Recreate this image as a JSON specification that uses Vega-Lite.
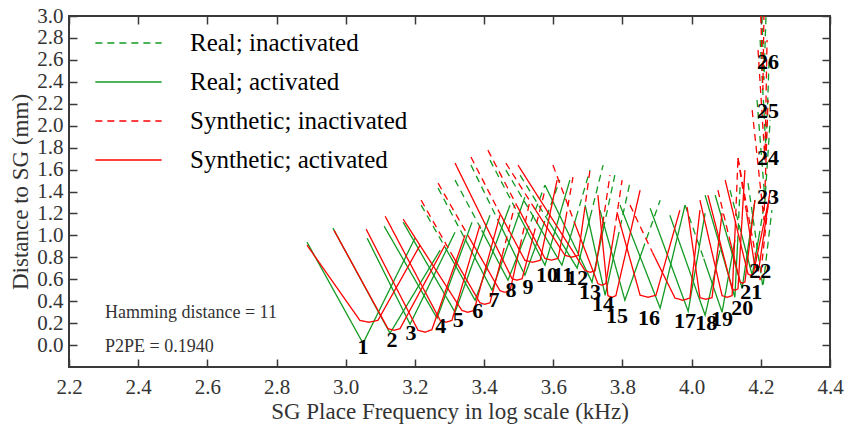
{
  "$schema": "https://vega.github.io/schema/vega-lite/v6.json",
  "width": 761,
  "height": 351,
  "autosize": {"type": "none"},
  "padding": {"left": 69, "top": 16, "right": 18, "bottom": 62},
  "background": "white",
  "config": {"view": {"stroke": "#3a3a3a", "strokeWidth": 2}, "font": "Liberation Serif"},
  "datasets": {
    "curves": [
      {"k":"Real; activated","g":"G1","x":2.888,"y":0.938},{"k":"Real; activated","g":"G1","x":3.050,"y":0.016},{"k":"Real; activated","g":"G1","x":3.200,"y":0.974},
      {"k":"Real; activated","g":"G2","x":2.963,"y":1.066},{"k":"Real; activated","g":"G2","x":3.128,"y":0.108},{"k":"Real; activated","g":"G2","x":3.273,"y":0.865},
      {"k":"Real; activated","g":"G3","x":3.062,"y":0.974},{"k":"Real; activated","g":"G3","x":3.186,"y":0.190},{"k":"Real; activated","g":"G3","x":3.316,"y":1.029},
      {"k":"Real; activated","g":"G4","x":3.111,"y":1.084},{"k":"Real; activated","g":"G4","x":3.264,"y":0.245},{"k":"Real; activated","g":"G4","x":3.365,"y":1.120},
      {"k":"Real; activated","g":"G5","x":3.166,"y":1.120},{"k":"Real; activated","g":"G5","x":3.316,"y":0.299},{"k":"Real; activated","g":"G5","x":3.417,"y":1.184},
      {"k":"Real; inactivated","g":"G6a","x":3.218,"y":1.276},{"k":"Real; inactivated","g":"G6a","x":3.296,"y":0.843},
      {"k":"Real; activated","g":"G6b","x":3.296,"y":0.843},{"k":"Real; activated","g":"G6b","x":3.374,"y":0.409},{"k":"Real; activated","g":"G6b","x":3.475,"y":1.276},
      {"k":"Real; inactivated","g":"G7a","x":3.267,"y":1.431},{"k":"Real; inactivated","g":"G7a","x":3.345,"y":0.966},
      {"k":"Real; activated","g":"G7b","x":3.345,"y":0.966},{"k":"Real; activated","g":"G7b","x":3.423,"y":0.500},{"k":"Real; activated","g":"G7b","x":3.518,"y":1.349},
      {"k":"Real; inactivated","g":"G8a","x":3.316,"y":1.504},{"k":"Real; inactivated","g":"G8a","x":3.393,"y":1.048},
      {"k":"Real; activated","g":"G8b","x":3.393,"y":1.048},{"k":"Real; activated","g":"G8b","x":3.469,"y":0.591},{"k":"Real; activated","g":"G8b","x":3.523,"y":1.025},
      {"k":"Real; inactivated","g":"G8c","x":3.523,"y":1.025},{"k":"Real; inactivated","g":"G8c","x":3.576,"y":1.458},
      {"k":"Real; inactivated","g":"G9a","x":3.362,"y":1.641},{"k":"Real; inactivated","g":"G9a","x":3.440,"y":1.139},
      {"k":"Real; activated","g":"G9b","x":3.440,"y":1.139},{"k":"Real; activated","g":"G9b","x":3.518,"y":0.637},{"k":"Real; activated","g":"G9b","x":3.569,"y":1.071},
      {"k":"Real; inactivated","g":"G9c","x":3.569,"y":1.071},{"k":"Real; inactivated","g":"G9c","x":3.619,"y":1.504},
      {"k":"Real; inactivated","g":"G10a","x":3.417,"y":1.686},{"k":"Real; inactivated","g":"G10a","x":3.497,"y":1.207},
      {"k":"Real; activated","g":"G10b","x":3.497,"y":1.207},{"k":"Real; activated","g":"G10b","x":3.576,"y":0.728},{"k":"Real; activated","g":"G10b","x":3.648,"y":1.504},
      {"k":"Real; inactivated","g":"G11a","x":3.463,"y":1.595},{"k":"Real; inactivated","g":"G11a","x":3.544,"y":1.162},
      {"k":"Real; activated","g":"G11b","x":3.544,"y":1.162},{"k":"Real; activated","g":"G11b","x":3.625,"y":0.728},{"k":"Real; activated","g":"G11b","x":3.666,"y":1.162},
      {"k":"Real; inactivated","g":"G11c","x":3.666,"y":1.162},{"k":"Real; inactivated","g":"G11c","x":3.706,"y":1.595},
      {"k":"Real; inactivated","g":"G12a","x":3.504,"y":1.549},{"k":"Real; inactivated","g":"G12a","x":3.587,"y":1.125},
      {"k":"Real; activated","g":"G12b","x":3.587,"y":1.125},{"k":"Real; activated","g":"G12b","x":3.669,"y":0.701},{"k":"Real; activated","g":"G12b","x":3.707,"y":1.171},
      {"k":"Real; inactivated","g":"G12c","x":3.707,"y":1.171},{"k":"Real; inactivated","g":"G12c","x":3.744,"y":1.641},
      {"k":"Real; activated","g":"G13b","x":3.576,"y":1.458},{"k":"Real; activated","g":"G13b","x":3.712,"y":0.573},{"k":"Real; activated","g":"G13b","x":3.745,"y":1.061},
      {"k":"Real; inactivated","g":"G13c","x":3.745,"y":1.061},{"k":"Real; inactivated","g":"G13c","x":3.778,"y":1.549},
      {"k":"Real; activated","g":"G14b","x":3.692,"y":1.276},{"k":"Real; activated","g":"G14b","x":3.750,"y":0.454},{"k":"Real; activated","g":"G14b","x":3.786,"y":0.970},
      {"k":"Real; inactivated","g":"G14c","x":3.786,"y":0.970},{"k":"Real; inactivated","g":"G14c","x":3.822,"y":1.485},
      {"k":"Real; activated","g":"G15b","x":3.735,"y":1.230},{"k":"Real; activated","g":"G15b","x":3.807,"y":0.409},{"k":"Real; activated","g":"G15b","x":3.858,"y":0.865},
      {"k":"Real; inactivated","g":"G15c","x":3.858,"y":0.865},{"k":"Real; inactivated","g":"G15c","x":3.909,"y":1.321},
      {"k":"Real; activated","g":"G16","x":3.793,"y":1.276},{"k":"Real; activated","g":"G16","x":3.909,"y":0.336},{"k":"Real; activated","g":"G16","x":3.981,"y":1.276},
      {"k":"Real; activated","g":"G17","x":3.880,"y":1.248},{"k":"Real; activated","g":"G17","x":3.990,"y":0.308},{"k":"Real; activated","g":"G17","x":4.039,"y":1.203},
      {"k":"Real; activated","g":"G18","x":3.937,"y":1.184},{"k":"Real; activated","g":"G18","x":4.039,"y":0.272},{"k":"Real; activated","g":"G18","x":4.082,"y":0.865},
      {"k":"Real; inactivated","g":"G19a","x":3.981,"y":1.276},{"k":"Real; inactivated","g":"G19a","x":4.035,"y":0.788},
      {"k":"Real; activated","g":"G19b","x":4.035,"y":0.788},{"k":"Real; activated","g":"G19b","x":4.088,"y":0.299},{"k":"Real; activated","g":"G19b","x":4.125,"y":0.956},
      {"k":"Real; activated","g":"G20b","x":4.039,"y":1.367},{"k":"Real; activated","g":"G20b","x":4.125,"y":0.436},{"k":"Real; activated","g":"G20b","x":4.133,"y":0.938},
      {"k":"Real; inactivated","g":"G20c","x":4.133,"y":0.938},{"k":"Real; inactivated","g":"G20c","x":4.140,"y":1.440},
      {"k":"Real; activated","g":"G21","x":4.068,"y":1.367},{"k":"Real; activated","g":"G21","x":4.146,"y":0.518},{"k":"Real; activated","g":"G21","x":4.183,"y":1.321},
      {"k":"Real; inactivated","g":"G22a","x":4.111,"y":1.412},{"k":"Real; inactivated","g":"G22a","x":4.143,"y":1.025},
      {"k":"Real; activated","g":"G22b","x":4.143,"y":1.025},{"k":"Real; activated","g":"G22b","x":4.175,"y":0.637},{"k":"Real; activated","g":"G22b","x":4.194,"y":0.979},
      {"k":"Real; inactivated","g":"G22c","x":4.194,"y":0.979},{"k":"Real; inactivated","g":"G22c","x":4.212,"y":1.321},
      {"k":"Real; inactivated","g":"G23","x":4.163,"y":1.476},{"k":"Real; inactivated","g":"G23","x":4.206,"y":0.527},{"k":"Real; inactivated","g":"G23","x":4.232,"y":1.230},
      {"k":"Real; inactivated","g":"G24","x":4.189,"y":2.234},{"k":"Real; inactivated","g":"G24","x":4.212,"y":1.321},{"k":"Real; inactivated","g":"G24","x":4.227,"y":2.051},
      {"k":"Real; inactivated","g":"G25","x":4.198,"y":2.781},{"k":"Real; inactivated","g":"G25","x":4.215,"y":1.777},{"k":"Real; inactivated","g":"G25","x":4.224,"y":2.599},
      {"k":"Real; inactivated","g":"G26","x":4.203,"y":3.0},{"k":"Real; inactivated","g":"G26","x":4.209,"y":2.416},{"k":"Real; inactivated","g":"G26","x":4.215,"y":3.0},
      {"k":"Synthetic; activated","g":"R1","x":2.888,"y":0.911},{"k":"Synthetic; activated","g":"R1","x":3.041,"y":0.225},{"k":"Synthetic; activated","g":"R1","x":3.067,"y":0.208},{"k":"Synthetic; activated","g":"R1","x":3.093,"y":0.225},{"k":"Synthetic; activated","g":"R1","x":3.215,"y":0.911},
      {"k":"Synthetic; activated","g":"R2","x":2.966,"y":1.047},{"k":"Synthetic; activated","g":"R2","x":3.122,"y":0.150},{"k":"Synthetic; activated","g":"R2","x":3.140,"y":0.135},{"k":"Synthetic; activated","g":"R2","x":3.157,"y":0.150},{"k":"Synthetic; activated","g":"R2","x":3.287,"y":0.911},
      {"k":"Synthetic; activated","g":"R3","x":3.059,"y":1.057},{"k":"Synthetic; activated","g":"R3","x":3.209,"y":0.135},{"k":"Synthetic; activated","g":"R3","x":3.229,"y":0.117},{"k":"Synthetic; activated","g":"R3","x":3.249,"y":0.140},{"k":"Synthetic; activated","g":"R3","x":3.345,"y":1.002},
      {"k":"Synthetic; activated","g":"R4","x":3.114,"y":1.175},{"k":"Synthetic; activated","g":"R4","x":3.273,"y":0.225},{"k":"Synthetic; activated","g":"R4","x":3.290,"y":0.208},{"k":"Synthetic; activated","g":"R4","x":3.307,"y":0.225},{"k":"Synthetic; activated","g":"R4","x":3.388,"y":1.093},
      {"k":"Synthetic; activated","g":"R5","x":3.166,"y":1.148},{"k":"Synthetic; activated","g":"R5","x":3.336,"y":0.315},{"k":"Synthetic; activated","g":"R5","x":3.353,"y":0.299},{"k":"Synthetic; activated","g":"R5","x":3.371,"y":0.315},{"k":"Synthetic; activated","g":"R5","x":3.446,"y":1.184},
      {"k":"Synthetic; inactivated","g":"R6a","x":3.218,"y":1.321},{"k":"Synthetic; inactivated","g":"R6a","x":3.303,"y":0.847},
      {"k":"Synthetic; activated","g":"R6b","x":3.303,"y":0.847},{"k":"Synthetic; activated","g":"R6b","x":3.388,"y":0.385},{"k":"Synthetic; activated","g":"R6b","x":3.402,"y":0.372},{"k":"Synthetic; activated","g":"R6b","x":3.417,"y":0.385},{"k":"Synthetic; activated","g":"R6b","x":3.453,"y":0.824},
      {"k":"Synthetic; inactivated","g":"R6c","x":3.453,"y":0.824},{"k":"Synthetic; inactivated","g":"R6c","x":3.489,"y":1.276},
      {"k":"Synthetic; inactivated","g":"R7a","x":3.267,"y":1.476},{"k":"Synthetic; inactivated","g":"R7a","x":3.357,"y":0.979},
      {"k":"Synthetic; activated","g":"R7b","x":3.357,"y":0.979},{"k":"Synthetic; activated","g":"R7b","x":3.446,"y":0.495},{"k":"Synthetic; activated","g":"R7b","x":3.460,"y":0.482},{"k":"Synthetic; activated","g":"R7b","x":3.475,"y":0.495},{"k":"Synthetic; activated","g":"R7b","x":3.504,"y":0.902},
      {"k":"Synthetic; inactivated","g":"R7c","x":3.504,"y":0.902},{"k":"Synthetic; inactivated","g":"R7c","x":3.533,"y":1.321},
      {"k":"Synthetic; activated","g":"R8b","x":3.316,"y":1.659},{"k":"Synthetic; activated","g":"R8b","x":3.481,"y":0.605},{"k":"Synthetic; activated","g":"R8b","x":3.495,"y":0.591},{"k":"Synthetic; activated","g":"R8b","x":3.510,"y":0.605},{"k":"Synthetic; activated","g":"R8b","x":3.543,"y":1.002},
      {"k":"Synthetic; inactivated","g":"R8c","x":3.543,"y":1.002},{"k":"Synthetic; inactivated","g":"R8c","x":3.576,"y":1.412},
      {"k":"Synthetic; inactivated","g":"R9a","x":3.362,"y":1.714},{"k":"Synthetic; inactivated","g":"R9a","x":3.440,"y":1.235},
      {"k":"Synthetic; activated","g":"R9b","x":3.440,"y":1.235},{"k":"Synthetic; activated","g":"R9b","x":3.518,"y":0.772},{"k":"Synthetic; activated","g":"R9b","x":3.540,"y":0.755},{"k":"Synthetic; activated","g":"R9b","x":3.562,"y":0.772},{"k":"Synthetic; activated","g":"R9b","x":3.611,"y":1.504},
      {"k":"Synthetic; inactivated","g":"R10a","x":3.411,"y":1.777},{"k":"Synthetic; inactivated","g":"R10a","x":3.494,"y":1.276},
      {"k":"Synthetic; activated","g":"R10b","x":3.494,"y":1.276},{"k":"Synthetic; activated","g":"R10b","x":3.576,"y":0.790},{"k":"Synthetic; activated","g":"R10b","x":3.595,"y":0.774},{"k":"Synthetic; activated","g":"R10b","x":3.614,"y":0.790},{"k":"Synthetic; activated","g":"R10b","x":3.636,"y":1.153},
      {"k":"Synthetic; inactivated","g":"R10c","x":3.636,"y":1.153},{"k":"Synthetic; inactivated","g":"R10c","x":3.657,"y":1.531},
      {"k":"Synthetic; inactivated","g":"R11a","x":3.463,"y":1.659},{"k":"Synthetic; inactivated","g":"R11a","x":3.549,"y":1.230},
      {"k":"Synthetic; activated","g":"R11b","x":3.549,"y":1.230},{"k":"Synthetic; activated","g":"R11b","x":3.634,"y":0.817},{"k":"Synthetic; activated","g":"R11b","x":3.653,"y":0.801},{"k":"Synthetic; activated","g":"R11b","x":3.672,"y":0.817},{"k":"Synthetic; activated","g":"R11b","x":3.689,"y":1.198},
      {"k":"Synthetic; inactivated","g":"R11c","x":3.689,"y":1.198},{"k":"Synthetic; inactivated","g":"R11c","x":3.706,"y":1.595},
      {"k":"Synthetic; activated","g":"R12b","x":3.498,"y":1.641},{"k":"Synthetic; activated","g":"R12b","x":3.692,"y":0.678},{"k":"Synthetic; activated","g":"R12b","x":3.707,"y":0.664},{"k":"Synthetic; activated","g":"R12b","x":3.721,"y":0.678},{"k":"Synthetic; activated","g":"R12b","x":3.743,"y":1.107},
      {"k":"Synthetic; inactivated","g":"R12c","x":3.743,"y":1.107},{"k":"Synthetic; inactivated","g":"R12c","x":3.764,"y":1.549},
      {"k":"Synthetic; inactivated","g":"R13a","x":3.599,"y":1.641},{"k":"Synthetic; inactivated","g":"R13a","x":3.664,"y":1.094},
      {"k":"Synthetic; activated","g":"R13b","x":3.664,"y":1.094},{"k":"Synthetic; activated","g":"R13b","x":3.729,"y":0.560},{"k":"Synthetic; activated","g":"R13b","x":3.740,"y":0.546},{"k":"Synthetic; activated","g":"R13b","x":3.752,"y":0.560},{"k":"Synthetic; activated","g":"R13b","x":3.776,"y":1.025},
      {"k":"Synthetic; inactivated","g":"R13c","x":3.776,"y":1.025},{"k":"Synthetic; inactivated","g":"R13c","x":3.799,"y":1.504},
      {"k":"Synthetic; activated","g":"R14","x":3.729,"y":1.367},{"k":"Synthetic; activated","g":"R14","x":3.758,"y":0.450},{"k":"Synthetic; activated","g":"R14","x":3.770,"y":0.436},{"k":"Synthetic; activated","g":"R14","x":3.781,"y":0.450},{"k":"Synthetic; activated","g":"R14","x":3.851,"y":1.412},
      {"k":"Synthetic; activated","g":"R15","x":3.784,"y":1.212},{"k":"Synthetic; activated","g":"R15","x":3.851,"y":0.455},{"k":"Synthetic; activated","g":"R15","x":3.874,"y":0.436},{"k":"Synthetic; activated","g":"R15","x":3.897,"y":0.455},{"k":"Synthetic; activated","g":"R15","x":3.966,"y":1.230},
      {"k":"Synthetic; inactivated","g":"R16a","x":3.822,"y":1.276},{"k":"Synthetic; inactivated","g":"R16a","x":3.887,"y":0.843},
      {"k":"Synthetic; activated","g":"R16b","x":3.887,"y":0.843},{"k":"Synthetic; activated","g":"R16b","x":3.952,"y":0.428},{"k":"Synthetic; activated","g":"R16b","x":3.974,"y":0.409},{"k":"Synthetic; activated","g":"R16b","x":3.995,"y":0.428},{"k":"Synthetic; activated","g":"R16b","x":4.024,"y":1.230},
      {"k":"Synthetic; activated","g":"R17","x":3.987,"y":1.257},{"k":"Synthetic; activated","g":"R17","x":4.024,"y":0.432},{"k":"Synthetic; activated","g":"R17","x":4.042,"y":0.418},{"k":"Synthetic; activated","g":"R17","x":4.059,"y":0.432},{"k":"Synthetic; activated","g":"R17","x":4.088,"y":1.203},
      {"k":"Synthetic; activated","g":"R18b","x":4.024,"y":1.321},{"k":"Synthetic; activated","g":"R18b","x":4.088,"y":0.450},{"k":"Synthetic; activated","g":"R18b","x":4.103,"y":0.436},{"k":"Synthetic; activated","g":"R18b","x":4.117,"y":0.450},{"k":"Synthetic; activated","g":"R18b","x":4.126,"y":1.070},
      {"k":"Synthetic; inactivated","g":"R18c","x":4.126,"y":1.070},{"k":"Synthetic; inactivated","g":"R18c","x":4.134,"y":1.704},
      {"k":"Synthetic; activated","g":"R19","x":4.047,"y":1.367},{"k":"Synthetic; activated","g":"R19","x":4.117,"y":0.512},{"k":"Synthetic; activated","g":"R19","x":4.125,"y":0.500},{"k":"Synthetic; activated","g":"R19","x":4.134,"y":0.512},{"k":"Synthetic; activated","g":"R19","x":4.154,"y":1.595},
      {"k":"Synthetic; inactivated","g":"R20a","x":4.076,"y":1.412},{"k":"Synthetic; inactivated","g":"R20a","x":4.108,"y":0.988},
      {"k":"Synthetic; activated","g":"R20b","x":4.108,"y":0.988},{"k":"Synthetic; activated","g":"R20b","x":4.140,"y":0.575},{"k":"Synthetic; activated","g":"R20b","x":4.147,"y":0.564},{"k":"Synthetic; activated","g":"R20b","x":4.154,"y":0.575},{"k":"Synthetic; activated","g":"R20b","x":4.183,"y":1.321},
      {"k":"Synthetic; activated","g":"R21","x":4.097,"y":1.504},{"k":"Synthetic; activated","g":"R21","x":4.163,"y":0.647},{"k":"Synthetic; activated","g":"R21","x":4.170,"y":0.637},{"k":"Synthetic; activated","g":"R21","x":4.178,"y":0.647},{"k":"Synthetic; activated","g":"R21","x":4.221,"y":1.294},
      {"k":"Synthetic; inactivated","g":"R22a","x":4.134,"y":1.704},{"k":"Synthetic; inactivated","g":"R22a","x":4.159,"y":1.203},
      {"k":"Synthetic; activated","g":"R22b","x":4.159,"y":1.203},{"k":"Synthetic; activated","g":"R22b","x":4.183,"y":0.710},{"k":"Synthetic; activated","g":"R22b","x":4.189,"y":0.701},{"k":"Synthetic; activated","g":"R22b","x":4.195,"y":0.710},{"k":"Synthetic; activated","g":"R22b","x":4.227,"y":1.412},
      {"k":"Synthetic; inactivated","g":"R23","x":4.134,"y":1.704},{"k":"Synthetic; inactivated","g":"R23","x":4.198,"y":0.591},{"k":"Synthetic; inactivated","g":"R23","x":4.221,"y":1.276},
      {"k":"Synthetic; inactivated","g":"R24","x":4.175,"y":2.142},{"k":"Synthetic; inactivated","g":"R24","x":4.209,"y":1.139},{"k":"Synthetic; inactivated","g":"R24","x":4.221,"y":2.234},
      {"k":"Synthetic; inactivated","g":"R25","x":4.192,"y":2.690},{"k":"Synthetic; inactivated","g":"R25","x":4.212,"y":1.686},{"k":"Synthetic; inactivated","g":"R25","x":4.218,"y":2.781},
      {"k":"Synthetic; inactivated","g":"R26","x":4.200,"y":3.0},{"k":"Synthetic; inactivated","g":"R26","x":4.206,"y":2.325},{"k":"Synthetic; inactivated","g":"R26","x":4.209,"y":3.0}
    ],
    "notes": [
      {"t": "Hamming distance = 11", "x": 2.304, "y": 0.290},
      {"t": "P2PE = 0.1940", "x": 2.304, "y": -0.020}
    ],
    "labels": [
      {"n":"1","x":3.050,"y":-0.020},{"n":"2","x":3.134,"y":0.044},{"n":"3","x":3.189,"y":0.108},
      {"n":"4","x":3.275,"y":0.172},{"n":"5","x":3.325,"y":0.226},{"n":"6","x":3.382,"y":0.308},
      {"n":"7","x":3.429,"y":0.409},{"n":"8","x":3.478,"y":0.500},{"n":"9","x":3.527,"y":0.527},
      {"n":"10","x":3.582,"y":0.637},{"n":"11","x":3.628,"y":0.637},{"n":"12","x":3.669,"y":0.610},
      {"n":"13","x":3.706,"y":0.482},{"n":"14","x":3.744,"y":0.372},{"n":"15","x":3.784,"y":0.263},
      {"n":"16","x":3.877,"y":0.245},{"n":"17","x":3.981,"y":0.217},{"n":"18","x":4.042,"y":0.199},
      {"n":"19","x":4.088,"y":0.235},{"n":"20","x":4.146,"y":0.336},{"n":"21","x":4.172,"y":0.482},
      {"n":"22","x":4.198,"y":0.673},{"n":"23","x":4.221,"y":1.349},{"n":"24","x":4.221,"y":1.704},
      {"n":"25","x":4.221,"y":2.133},{"n":"26","x":4.221,"y":2.580}
    ]
  },
  "layer": [
    {
      "data": {"name": "curves"},
      "mark": {"type": "line", "strokeWidth": 1.3, "clip": true},
      "encoding": {
        "x": {"field": "x", "type": "quantitative",
          "scale": {"domain": [2.2, 4.4], "nice": false, "zero": false},
          "axis": {"orient": "bottom", "values": [2.2,2.4,2.6,2.8,3.0,3.2,3.4,3.6,3.8,4.0,4.2,4.4], "format": ".1f",
            "tickSize": -8, "tickColor": "#3a3a3a", "tickWidth": 1.5, "labelPadding": 17,
            "labelFont": "Liberation Serif", "labelFontSize": 21, "labelColor": "#333333",
            "labelFlush": false, "labelOverlap": false, "domain": false, "grid": false,
            "title": "SG Place Frequency in log scale (kHz)", "titleFont": "Liberation Serif",
            "titleFontSize": 23, "titleFontWeight": "normal", "titleColor": "#333333", "titlePadding": 3}},
        "y": {"field": "y", "type": "quantitative",
          "scale": {"domain": [-0.2, 3.0], "nice": false, "zero": false},
          "axis": {"orient": "left", "values": [0,0.2,0.4,0.6,0.8,1.0,1.2,1.4,1.6,1.8,2.0,2.2,2.4,2.6,2.8,3.0], "format": ".1f",
            "tickSize": -8, "tickColor": "#3a3a3a", "tickWidth": 1.5, "labelPadding": 14,
            "labelFont": "Liberation Serif", "labelFontSize": 21, "labelColor": "#333333",
            "labelFlush": false, "labelOverlap": false, "domain": false, "grid": false,
            "title": "Distance to SG (mm)", "titleFont": "Liberation Serif",
            "titleFontSize": 23, "titleFontWeight": "normal", "titleColor": "#333333", "titlePadding": 4}},
        "color": {"field": "k", "type": "nominal",
          "scale": {"domain": ["Real; inactivated", "Real; activated", "Synthetic; inactivated", "Synthetic; activated"],
                    "range": ["#129a22", "#129a22", "#ff0000", "#ff0000"]},
          "legend": {"title": null, "orient": "none", "legendX": 39, "legendY": 6.5,
            "symbolType": "M-1.7,0L1.7,0", "symbolSize": 1521, "symbolStrokeWidth": 1.6,
            "labelFont": "Liberation Serif", "labelFontSize": 25, "labelColor": "#000000",
            "labelOffset": 41, "rowPadding": 5, "padding": 0, "labelLimit": 400}},
        "strokeDash": {"field": "k", "type": "nominal",
          "scale": {"domain": ["Real; inactivated", "Real; activated", "Synthetic; inactivated", "Synthetic; activated"],
                    "range": [[7,5],[1,0],[7,5],[1,0]]},
          "legend": {"title": null, "orient": "none", "legendX": 39, "legendY": 6.5,
            "symbolType": "M-1.7,0L1.7,0", "symbolSize": 1521, "symbolStrokeWidth": 1.6,
            "labelFont": "Liberation Serif", "labelFontSize": 25, "labelColor": "#000000",
            "labelOffset": 41, "rowPadding": 5, "padding": 0, "labelLimit": 400}},
        "detail": {"field": "g", "type": "nominal"}
      }
    },
    {
      "data": {"name": "notes"},
      "mark": {"type": "text", "align": "left", "baseline": "middle", "font": "Liberation Serif", "fontSize": 18, "color": "#333333"},
      "encoding": {
        "x": {"field": "x", "type": "quantitative", "scale": {"domain": [2.2, 4.4], "nice": false, "zero": false},
          "axis": {"orient": "top", "values": [2.2,2.4,2.6,2.8,3.0,3.2,3.4,3.6,3.8,4.0,4.2,4.4], "labels": false,
            "tickSize": -8, "tickColor": "#3a3a3a", "tickWidth": 1.5, "domain": false, "grid": false, "title": null}},
        "y": {"field": "y", "type": "quantitative", "scale": {"domain": [-0.2, 3.0], "nice": false, "zero": false},
          "axis": {"orient": "right", "values": [0,0.2,0.4,0.6,0.8,1.0,1.2,1.4,1.6,1.8,2.0,2.2,2.4,2.6,2.8,3.0], "labels": false,
            "tickSize": -8, "tickColor": "#3a3a3a", "tickWidth": 1.5, "domain": false, "grid": false, "title": null}},
        "text": {"field": "t", "type": "nominal"}
      }
    },
    {
      "data": {"name": "labels"},
      "mark": {"type": "text", "align": "center", "baseline": "middle", "font": "Liberation Serif", "fontSize": 22, "fontWeight": "bold", "color": "#000000"},
      "encoding": {
        "x": {"field": "x", "type": "quantitative", "axis": null},
        "y": {"field": "y", "type": "quantitative", "axis": null},
        "text": {"field": "n", "type": "nominal"}
      }
    }
  ],
  "resolve": {"axis": {"x": "independent", "y": "independent"}}
}
